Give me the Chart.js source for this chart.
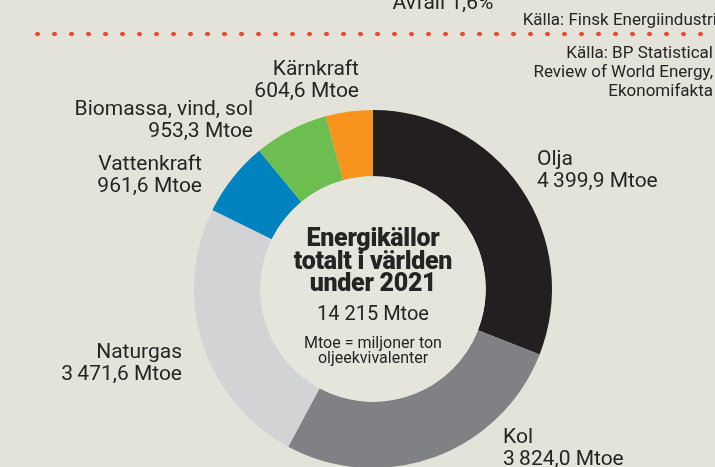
<!DOCTYPE html>
<html><head><meta charset="utf-8">
<script src="https://cdn.jsdelivr.net/npm/chart.js@4/dist/chart.umd.min.js"></script>
<style>
html,body{margin:0;padding:0;width:715px;height:467px;overflow:hidden;background:#e4e3d9;}
body{position:relative;font-family:Roboto,"Open Sans",sans-serif;color:#262324;}
#c{position:absolute;left:0;top:0;}
.lbl{position:absolute;font-size:21px;line-height:22px;white-space:nowrap;}
.r{text-align:right;}
.src{position:absolute;font-size:17px;line-height:19px;text-align:right;white-space:nowrap;}
#dots{position:absolute;left:29px;top:31px;width:690px;height:6px;
 background-image:radial-gradient(circle,#ee4b39 2.1px,transparent 2.6px);background-size:17px 6px;background-repeat:repeat-x;}
#center{position:absolute;left:233px;top:227px;width:280px;text-align:center;}
#center .t{font-weight:900;font-size:25px;line-height:22.5px;letter-spacing:-0.3px;}
#center .v{font-size:20px;line-height:22px;margin-top:7px;}
#center .n{font-size:16px;line-height:15px;margin-top:11px;}
</style></head>
<body>
<canvas id="c" width="715" height="480"></canvas>
<div class="lbl" style="left:391px;top:-9px;width:104px;text-align:center;">Avfall 1,6%</div>
<div class="src" style="right:-2px;top:10px;">Källa: Finsk Energiindustri</div>
<div id="dots"></div>
<div class="src" style="right:2px;top:43px;">Källa: BP Statistical<br>Review of World Energy,<br>Ekonomifakta</div>
<div id="labels"></div>
<div id="center">
 <div class="t">Energikällor<br>totalt i världen<br>under 2021</div>
 <div class="v">14 215 Mtoe</div>
 <div class="n">Mtoe = miljoner ton<br>oljeekvivalenter</div>
</div>
<script>
const categories = ["Olja","Kol","Naturgas","Vattenkraft","Biomassa, vind, sol","Kärnkraft"];
const values = [4399.9, 3824.0, 3471.6, 961.6, 953.3, 604.6];
const valueLabels = ["4 399,9 Mtoe","3 824,0 Mtoe","3 471,6 Mtoe","961,6 Mtoe","953,3 Mtoe","604,6 Mtoe"];
const colors = ["#231f20","#808184","#d2d3d5","#0083be","#6dbe50","#f7941d"];

// label placement (layout only)
const labelPos = [
  {left:537, top:147, align:"left"},
  {left:503, top:425, align:"left"},
  {right:533, top:340, align:"right"},
  {right:513, top:152, align:"right"},
  {right:462, top:97, align:"right"},
  {right:356, top:57, align:"right"}
];
const wrap = document.getElementById('labels');
categories.forEach((c,i)=>{
  const d=document.createElement('div');
  d.className='lbl'+(labelPos[i].align==='right'?' r':'');
  d.style.top=labelPos[i].top+'px';
  if(labelPos[i].left!==undefined) d.style.left=labelPos[i].left+'px';
  else d.style.right=labelPos[i].right+'px';
  d.innerHTML=c+'<br>'+valueLabels[i].replace(/ (?=\d)/g,'\u2009');
  wrap.appendChild(d);
});

const innerFill = {
  id:'innerFill',
  afterDatasetsDraw(chart){
    const arc = chart.getDatasetMeta(0).data[0];
    const ctx = chart.ctx;
    ctx.save();
    ctx.beginPath();
    ctx.arc(arc.x, arc.y, arc.innerRadius, 0, Math.PI*2);
    ctx.fillStyle = '#e6e5dc';
    ctx.fill();
    ctx.restore();
  }
};

new Chart(document.getElementById('c'), {
  type:'doughnut',
  data:{labels:categories, datasets:[{data:values, backgroundColor:colors, borderWidth:0}]},
  options:{
    responsive:false, animation:false, cutout:'63%',
    layout:{padding:{top:110,bottom:12,left:194,right:163}},
    plugins:{legend:{display:false},tooltip:{enabled:false}}
  },
  plugins:[innerFill]
});
</script>
</body></html>
